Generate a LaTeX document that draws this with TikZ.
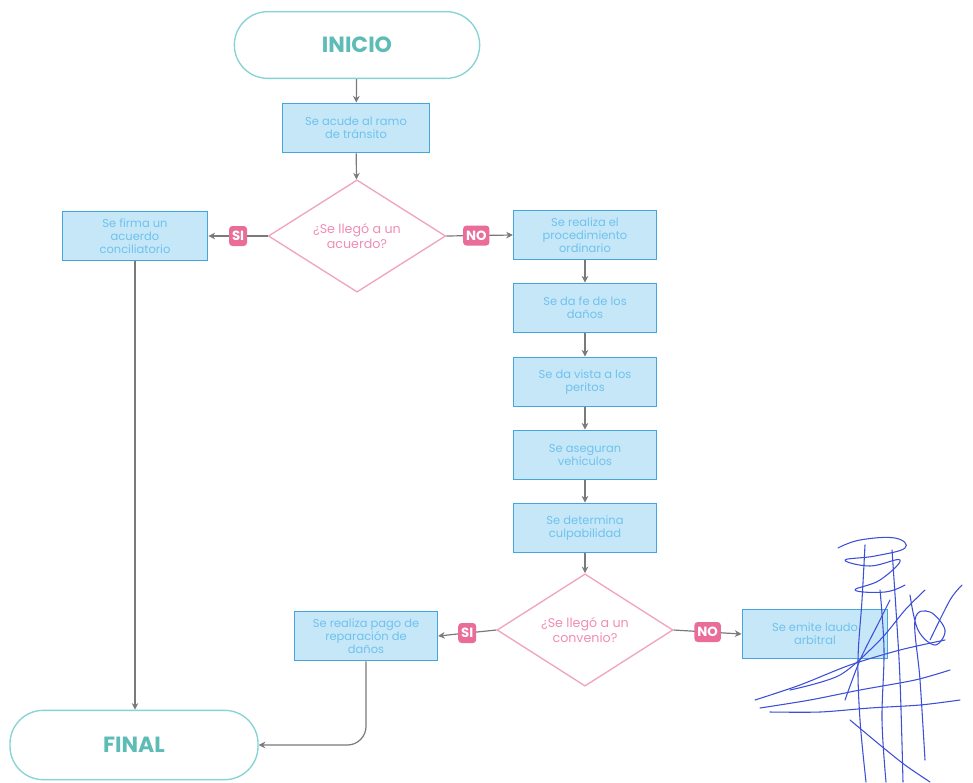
\documentclass[tikz,border=0pt]{standalone}
\usepackage{fontspec}
\setmainfont{Poppins}
\usetikzlibrary{shapes.geometric,arrows.meta}
\definecolor{termline}{HTML}{86D3D4}
\definecolor{termtext}{HTML}{5DBDB6}
\definecolor{boxfill}{HTML}{C6E7F8}
\definecolor{boxline}{HTML}{45A6DE}
\definecolor{boxtext}{HTML}{6FC2EE}
\definecolor{decline}{HTML}{F2A3C2}
\definecolor{dectext}{HTML}{F08DB5}
\definecolor{tagfill}{HTML}{EA6C98}
\definecolor{flow}{HTML}{7A7A7A}
\definecolor{ink}{HTML}{3C4FD6}
\tikzset{
  terminal/.style={draw=termline, line width=1pt, fill=white, rounded corners=25pt,
    minimum width=184pt, minimum height=50pt, text=termtext,
    font=\fontsize{16.5}{18}\selectfont\bfseries},
  stepbox/.style={draw=boxline, line width=1.2pt, fill=boxfill, minimum width=107pt,
    minimum height=37pt, align=center, text=boxtext, inner sep=2pt,
    font=\fontsize{8.6}{9.6}\selectfont},
  decision/.style={diamond, draw=decline, line width=1pt, fill=white, inner sep=0pt,
    minimum width=133pt, minimum height=83pt, align=center, text=dectext,
    font=\fontsize{9.5}{11}\selectfont},
  tag/.style={fill=tagfill, rounded corners=2.5pt, text=white, inner sep=2.2pt,
    minimum height=15pt, font=\fontsize{10}{11}\selectfont\bfseries},
  flowline/.style={draw=flow, line width=0.9pt, -{Stealth[length=5pt,width=5pt]}},
  sig/.style={draw=ink, line width=0.8pt, line cap=round, line join=round}
}
\begin{document}
\begin{tikzpicture}[x=0.75pt,y=-0.75pt]
\useasboundingbox (0,0) rectangle (973,782);

% start and end
\node[terminal] (inicio) at (357,45) {INICIO};
\node[terminal, minimum width=186pt, minimum height=52pt] (final) at (134,745) {FINAL};

% main column
\node[stepbox, minimum width=110pt] (acude) at (356,128) {Se acude al ramo\\de tránsito};
\node[decision] (d1) at (357,236) {¿Se llegó a un\\acuerdo?};
\node[stepbox, minimum width=109pt] (firma) at (135,236) {Se firma un\\acuerdo\\conciliatorio};

% ordinary procedure column
\node[stepbox] (proc) at (585,235) {Se realiza el\\procedimiento\\ordinario};
\node[stepbox] (fe) at (585,308) {Se da fe de los\\daños};
\node[stepbox] (peritos) at (585,382) {Se da vista a los\\peritos};
\node[stepbox] (aseg) at (585,455) {Se aseguran\\vehículos};
\node[stepbox] (culpa) at (585,528) {Se determina\\culpabilidad};
\node[decision, minimum width=132pt, minimum height=79pt] (d2) at (585,630) {¿Se llegó a un\\convenio?};
\node[stepbox] (pago) at (366,636) {Se realiza pago de\\reparación de\\daños};
\node[stepbox, minimum width=109pt] (laudo) at (815,634) {Se emite laudo\\arbitral};

% connectors
\draw[flowline] (inicio) -- (acude);
\draw[flowline] (acude) -- (d1);
\draw[flowline] (d1.west) -- node[tag] {SI} (firma.east);
\draw[flowline] (d1.east) -- node[tag, pos=0.45] {NO} (proc.west);
\draw[flowline] (proc) -- (fe);
\draw[flowline] (fe) -- (peritos);
\draw[flowline] (peritos) -- (aseg);
\draw[flowline] (aseg) -- (culpa);
\draw[flowline] (culpa) -- (d2);
\draw[flowline] (d2.west) -- node[tag] {SI} (pago.east);
\draw[flowline] (d2.east) -- node[tag] {NO} (laudo.west);
\draw[flowline] (firma.south) -- (firma.south |- final.north);
\draw[flowline, rounded corners=14pt] (pago.south) |- (final.east);

% handwritten signature
\draw[sig] plot[smooth, tension=0.7] coordinates {(838,548) (860,540) (895,538) (905,548) (875,556) (845,560) (870,566) (900,560) (880,580) (855,590) (885,592) (905,585)};
\draw[sig] plot[smooth, tension=0.6] coordinates {(865,545) (862,600) (858,660) (860,720) (866,782)};
\draw[sig] plot[smooth, tension=0.6] coordinates {(892,550) (896,610) (900,680) (903,782)};
\draw[sig] plot[smooth, tension=0.6] coordinates {(880,590) (884,650) (882,720) (886,782)};
\draw[sig] plot[smooth, tension=0.6] coordinates {(910,595) (918,630) (935,645) (945,630) (930,612) (915,620) (920,680) (925,760)};
\draw[sig] plot[smooth, tension=0.5] coordinates {(755,700) (800,685) (850,665) (900,650) (945,640)};
\draw[sig] plot[smooth, tension=0.5] coordinates {(760,708) (810,700) (860,690) (915,680) (950,670)};
\draw[sig] plot[smooth, tension=0.5] coordinates {(770,712) (820,712) (870,708) (920,705) (960,700)};
\draw[sig] plot[smooth, tension=0.5] coordinates {(790,690) (840,675) (880,640) (905,610) (925,590)};
\draw[sig] plot[smooth, tension=0.5] coordinates {(850,720) (880,745) (905,765) (930,782)};
\draw[sig] plot[smooth, tension=0.5] coordinates {(845,700) (860,660) (880,620) (890,600)};
\draw[sig] plot[smooth, tension=0.5] coordinates {(930,640) (950,600) (962,585)};
\end{tikzpicture}
\end{document}
